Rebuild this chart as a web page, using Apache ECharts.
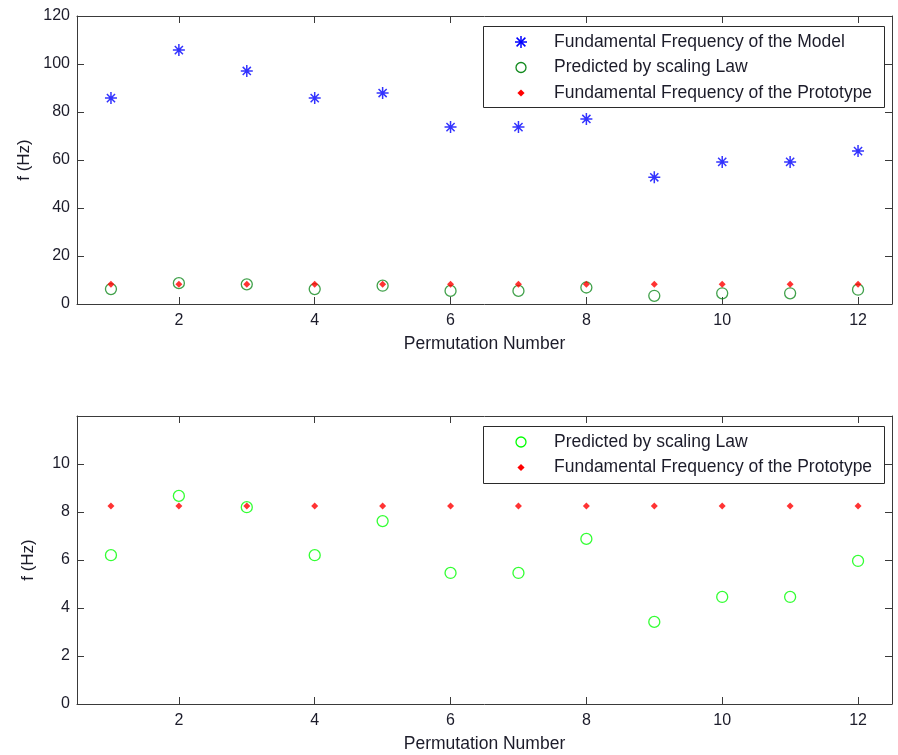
<!DOCTYPE html>
<html>
<head>
<meta charset="utf-8">
<script src="https://cdn.jsdelivr.net/npm/echarts@6/dist/echarts.min.js"></script>
<style>
  html, body { margin: 0; padding: 0; background: #fff; }
  #chart { width: 898px; height: 755px; }
</style>
</head>
<body>
<div id="chart"></div>
<script>
// Permutation numbers on the x axis
const permutations = [1, 2, 3, 4, 5, 6, 7, 8, 9, 10, 11, 12];
// Fundamental frequency measured on the model (Hz)
const modelFreq = [85.8, 105.8, 97.1, 85.8, 87.9, 73.7, 73.7, 77.1, 52.8, 59.2, 59.2, 63.7];
// Frequency predicted by the scaling law (Hz)
const predictedFreq = [6.2, 8.67, 8.2, 6.2, 7.62, 5.46, 5.46, 6.88, 3.42, 4.46, 4.46, 5.96];
// Fundamental frequency of the prototype (Hz)
const prototypeFreq = [8.25, 8.25, 8.25, 8.25, 8.25, 8.25, 8.25, 8.25, 8.25, 8.25, 8.25, 8.25];
// Tick values
const xTicks = [2, 4, 6, 8, 10, 12];
const yTicksTop = [0, 20, 40, 60, 80, 100, 120];
const yTicksBottom = [0, 2, 4, 6, 8, 10];

const NAME_MODEL = 'Fundamental Frequency of the Model';
const NAME_PRED = 'Predicted by scaling Law';
const NAME_PROTO = 'Fundamental Frequency of the Prototype';

const FONT = 'Liberation Sans, Arial, sans-serif';
const TEXT_COLOR = '#1c1c2a';
const AXIS_COLOR = '#3a3a3a';
const BLUE = '#0000ff';
const DARK_GREEN = '#128a1e';
const GREEN = '#00ff00';
const RED = '#ff0000';
const STAR = 'path://M0,5L10,5M5,0L5,10M1.6,1.6L8.4,8.4M8.4,1.6L1.6,8.4';

const pairs = ys => permutations.map((x, i) => [x, ys[i]]);

function xAxisMain(gridIndex) {
  return {
    type: 'value', gridIndex, position: 'bottom', min: 0.5, max: 12.5,
    name: 'Permutation Number', nameLocation: 'middle', nameGap: 31, nameMoveOverlap: false,
    nameTextStyle: { fontFamily: FONT, fontSize: 17.5, color: TEXT_COLOR, verticalAlign: 'top' },
    axisLine: { show: true, onZero: false, lineStyle: { color: AXIS_COLOR, width: 1 } },
    axisTick: { show: true, inside: true, length: 7, customValues: xTicks, lineStyle: { color: AXIS_COLOR } },
    axisLabel: { show: true, customValues: xTicks, margin: 9, fontFamily: FONT, fontSize: 16, color: TEXT_COLOR },
    splitLine: { show: false }
  };
}
function xAxisMirror(gridIndex) {
  return {
    type: 'value', gridIndex, position: 'top', min: 0.5, max: 12.5,
    axisLine: { show: true, onZero: false, lineStyle: { color: AXIS_COLOR, width: 1 } },
    axisTick: { show: true, inside: true, length: 7, customValues: xTicks, lineStyle: { color: AXIS_COLOR } },
    axisLabel: { show: false }, splitLine: { show: false }
  };
}
function yAxisMain(gridIndex, max, ticks, gap) {
  return {
    type: 'value', gridIndex, position: 'left', min: 0, max,
    name: 'f (Hz)', nameLocation: 'middle', nameGap: gap, nameRotate: 90, nameMoveOverlap: false,
    nameTextStyle: { fontFamily: FONT, fontSize: 17, color: TEXT_COLOR },
    axisLine: { show: true, onZero: false, lineStyle: { color: AXIS_COLOR, width: 1 } },
    axisTick: { show: true, inside: true, length: 7, customValues: ticks, lineStyle: { color: AXIS_COLOR } },
    axisLabel: { show: true, customValues: ticks, margin: 7, fontFamily: FONT, fontSize: 16, color: TEXT_COLOR },
    splitLine: { show: false }
  };
}
function yAxisMirror(gridIndex, max, ticks) {
  return {
    type: 'value', gridIndex, position: 'right', min: 0, max,
    axisLine: { show: true, onZero: false, lineStyle: { color: AXIS_COLOR, width: 1 } },
    axisTick: { show: true, inside: true, length: 7, customValues: ticks, lineStyle: { color: AXIS_COLOR } },
    axisLabel: { show: false }, splitLine: { show: false }
  };
}

// Legend key glyphs, centred on (cx, cy)
function keyStar(cx, cy, color) {
  const r = 6, d = 4.4;
  const segs = [[-r, 0, r, 0], [0, -r, 0, r], [-d, -d, d, d], [d, -d, -d, d]];
  return {
    type: 'group', children: segs.map(s => ({
      type: 'line', shape: { x1: cx + s[0], y1: cy + s[1], x2: cx + s[2], y2: cy + s[3] },
      style: { stroke: color, lineWidth: 1.5 }
    }))
  };
}
function keyRing(cx, cy, color) {
  return { type: 'circle', shape: { cx, cy, r: 5 }, style: { fill: 'none', stroke: color, lineWidth: 1.3 } };
}
function keyDot(cx, cy, color) {
  const h = 3.6;
  return { type: 'polygon', shape: { points: [[cx, cy - h], [cx + h, cy], [cx, cy + h], [cx - h, cy]] },
           style: { fill: color } };
}

// Boxed legend: rows of glyph + label
function legendBox(top, height, rows) {
  const children = [
    { type: 'rect', shape: { x: 483.5, y: top + 0.5, width: 401, height },
      style: { fill: '#fff', stroke: '#2a2a2a', lineWidth: 1 } }
  ];
  rows.forEach((row, i) => {
    const cy = top + 16 + i * 25.5;
    children.push(row.key(521, cy, row.color));
    children.push({ type: 'text', x: 554, y: cy,
      style: { text: row.name, font: '17.5px ' + FONT, fill: TEXT_COLOR, verticalAlign: 'middle', align: 'left' } });
  });
  return { type: 'group', z: 10, children };
}

const starStyle = { color: BLUE, borderColor: BLUE, borderWidth: 1.5 };
const ringDark = { color: 'rgba(0,0,0,0)', borderColor: DARK_GREEN, borderWidth: 1.3 };
const ringLight = { color: 'rgba(0,0,0,0)', borderColor: GREEN, borderWidth: 1.3 };
const dotStyle = { color: RED, borderWidth: 0 };

const option = {
  backgroundColor: '#fff',
  animation: false,
  grid: [
    { left: 77, right: 6, top: 16, height: 288 },
    { left: 77, right: 6, top: 416, height: 288 }
  ],
  xAxis: [xAxisMain(0), xAxisMirror(0), xAxisMain(1), xAxisMirror(1)],
  yAxis: [yAxisMain(0, 120, yTicksTop, 44), yAxisMirror(0, 120, yTicksTop),
          yAxisMain(1, 12, yTicksBottom, 40), yAxisMirror(1, 12, yTicksBottom)],
  graphic: [
    legendBox(26, 81, [
      { name: NAME_MODEL, key: keyStar, color: BLUE },
      { name: NAME_PRED, key: keyRing, color: DARK_GREEN },
      { name: NAME_PROTO, key: keyDot, color: RED }
    ]),
    legendBox(426, 57, [
      { name: NAME_PRED, key: keyRing, color: GREEN },
      { name: NAME_PROTO, key: keyDot, color: RED }
    ])
  ],
  series: [
    { name: NAME_MODEL, type: 'scatter', xAxisIndex: 0, yAxisIndex: 0,
      symbol: STAR, symbolSize: 12, itemStyle: starStyle, data: pairs(modelFreq), z: 3 },
    { name: NAME_PRED, type: 'scatter', xAxisIndex: 0, yAxisIndex: 0,
      symbol: 'circle', symbolSize: 11, itemStyle: ringDark, data: pairs(predictedFreq), z: 2 },
    { name: NAME_PROTO, type: 'scatter', xAxisIndex: 0, yAxisIndex: 0,
      symbol: 'diamond', symbolSize: 7, itemStyle: dotStyle, data: pairs(prototypeFreq), z: 3 },
    { name: NAME_PRED + ' ', type: 'scatter', xAxisIndex: 2, yAxisIndex: 2,
      symbol: 'circle', symbolSize: 11, itemStyle: ringLight, data: pairs(predictedFreq), z: 2 },
    { name: NAME_PROTO + ' ', type: 'scatter', xAxisIndex: 2, yAxisIndex: 2,
      symbol: 'diamond', symbolSize: 7, itemStyle: dotStyle, data: pairs(prototypeFreq), z: 3 }
  ]
};

const chart = echarts.init(document.getElementById('chart'), null, { renderer: 'canvas' });
chart.setOption(option);
</script>
</body>
</html>
